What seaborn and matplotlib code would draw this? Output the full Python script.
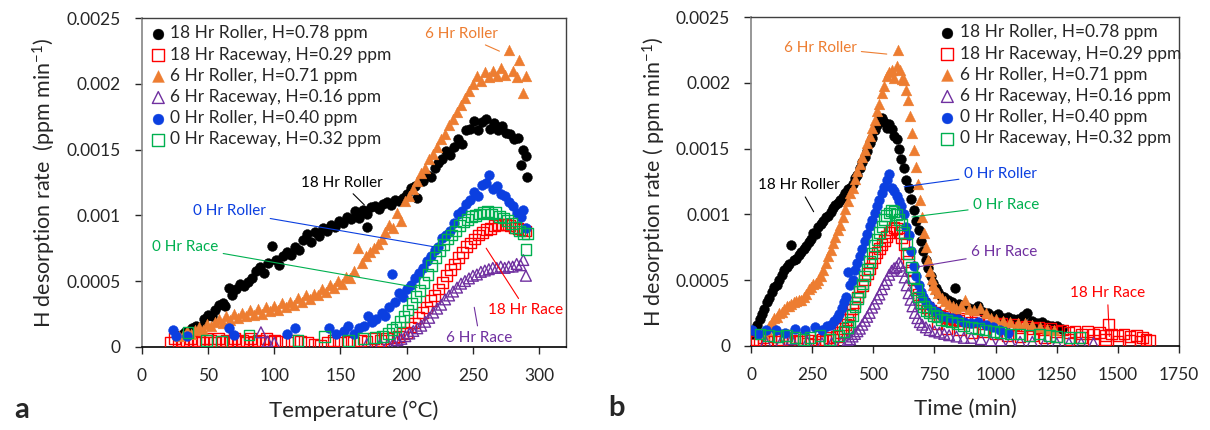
import numpy as np
import pandas as pd
import matplotlib
matplotlib.use("Agg")
import matplotlib.pyplot as plt
import seaborn as sns

# rates are in units of 1e-4 ppm/min

# ---- panel a: temperature (C) ----
r18_temp = [27, 30, 33, 36, 38, 41, 44, 47, 50, 53, 55, 58, 61, 63, 66, 68, 71, 74, 77, 80, 83, 86, 89, 92, 95, 98,
            101, 104, 107, 110, 113, 116, 119, 122, 125, 128, 131, 134, 137, 140, 143, 146, 149, 152, 155, 158, 161,
            164, 167, 170, 170, 173, 176, 179, 182, 185, 188, 191, 194, 197, 200, 203, 206, 208, 212, 215, 218, 221,
            224, 227, 230, 233, 236, 239, 242, 245, 248, 251, 254, 257, 260, 263, 266, 269, 272, 275, 278, 281, 284,
            286, 288, 290, 291]
r18_rate_a = [0.8, 0.9, 1.1, 1.0, 1.4, 1.6, 1.5, 2.1, 2.4, 2.3, 2.8, 3.2, 3.3, 3.1, 4.5, 3.9, 4.4, 4.8, 4.6, 4.9, 5.2,
              5.8, 6.1, 5.6, 6.4, 7.7, 6.6, 6.2, 6.9, 7.2, 7.0, 7.6, 7.4, 8.1, 8.6, 8.0, 8.7, 8.4, 9.0, 8.8, 9.3, 9.1,
              9.6, 9.4, 9.9, 9.7, 10.3, 9.8, 10.4, 10.1, 9.1, 10.6, 10.7, 10.5, 10.9, 11.0, 10.8, 11.2, 11.1, 11.3,
              11.6, 12.1, 12.2, 11.3, 12.6, 13.1, 12.9, 13.6, 14.0, 14.3, 14.9, 14.6, 15.2, 15.8, 15.4, 16.5, 16.6,
              17.2, 16.5, 17.1, 17.3, 16.6, 17.0, 16.5, 16.8, 16.3, 16.2, 15.8, 15.9, 13.8, 15.0, 14.5, 12.9]

rw18_temp = [22, 25, 28, 31, 34, 37, 40, 43, 46, 49, 52, 55, 58, 61, 64, 67, 70, 73, 76, 79, 82, 85, 88, 91, 94, 97,
             100, 105, 110, 115, 120, 125, 130, 135, 140, 145, 150, 155, 160, 165, 170, 175, 180, 185, 190, 194, 197,
             200, 203, 206, 209, 212, 215, 218, 221, 224, 227, 230, 233, 236, 239, 242, 245, 248, 251, 254, 257, 260,
             263, 266, 269, 272, 275, 278, 281, 284, 287, 290]
rw18_rate_a = [0.3, 0.6, 0.4, 0.5, 0.3, 0.6, 0.4, 0.5, 0.3, 0.6, 0.5, 0.3, 0.6, 0.4, 0.5, 0.3, 0.6, 0.4, 0.5, 0.3,
               0.6, 0.4, 0.5, 0.3, 0.6, 0.4, 0.5, 0.4, 0.3, 0.5, 0.4, 0.3, 0.2, 0.1, 0.3, 0.5, 0.3, 0.4, 0.3, 0.5,
               0.4, 0.6, 0.5, 0.6, 0.7, 0.8, 1.0, 1.1, 1.5, 1.8, 2.2, 2.6, 3.0, 3.5, 3.9, 4.4, 4.9, 5.4, 5.9, 6.3,
               6.8, 7.2, 7.6, 7.9, 8.2, 8.5, 8.7, 8.9, 9.0, 9.2, 9.3, 9.3, 9.3, 9.2, 9.1, 9.0, 8.9, 8.8]

r6_temp = [28, 31, 34, 37, 40, 43, 46, 49, 52, 55, 58, 61, 64, 67, 70, 73, 76, 79, 82, 85, 88, 91, 94, 97, 100, 103,
           106, 109, 112, 115, 118, 121, 124, 127, 130, 133, 136, 139, 142, 145, 148, 151, 154, 157, 160, 163, 166,
           169, 172, 175, 178, 181, 184, 187, 190, 193, 196, 199, 202, 205, 208, 211, 214, 217, 220, 223, 226, 229,
           232, 235, 238, 241, 244, 247, 250, 253, 256, 259, 262, 265, 268, 271, 274, 277, 280, 283, 285, 288, 290]
r6_rate_a = [0.8, 0.9, 1.2, 1.0, 1.3, 1.5, 1.3, 1.7, 1.6, 1.9, 2.1, 1.8, 2.3, 2.0, 2.5, 2.2, 2.6, 2.3, 2.8, 2.4, 2.9,
             2.5, 3.0, 2.7, 3.1, 2.8, 3.3, 3.0, 3.4, 3.2, 3.7, 3.4, 3.9, 3.6, 4.0, 3.9, 4.4, 4.2, 4.7, 4.5, 5.0, 4.8,
             5.3, 5.2, 5.8, 7.5, 6.4, 6.9, 7.2, 7.5, 7.8, 8.2, 8.7, 9.3, 9.0, 10.2, 9.6, 11.1, 11.5, 12.0, 12.6, 13.2,
             13.6, 14.3, 14.7, 15.2, 15.8, 16.2, 16.9, 17.3, 17.9, 18.4, 18.9, 19.5, 20.0, 20.6, 20.2, 20.9, 20.5,
             21.0, 20.6, 21.2, 20.7, 22.6, 21.0, 20.5, 21.8, 19.3, 20.6]

rw6_temp = [90, 95, 100, 170, 180, 186, 190, 193, 196, 199, 202, 205, 208, 211, 214, 217, 220, 223, 226, 229, 232, 235,
            238, 241, 244, 247, 250, 253, 256, 259, 262, 265, 268, 271, 274, 277, 280, 283, 286, 288, 290]
rw6_rate_a = [1.1, 0.4, 0.3, 0.2, 0.2, 0.2, 0.3, 0.5, 0.6, 0.8, 1.0, 1.2, 1.4, 1.6, 1.9, 2.2, 2.6, 2.9, 3.2, 3.6, 3.9,
              4.2, 4.5, 4.8, 5.0, 5.2, 5.4, 5.5, 5.7, 5.8, 5.9, 6.0, 6.0, 6.1, 6.0, 6.1, 6.1, 6.3, 6.2, 6.6, 5.4]

r0_temp = [24, 26, 34, 66, 70, 110, 116, 141, 147, 153, 156, 160, 164, 168, 171, 174, 177, 181, 184, 187, 189, 191,
           194, 197, 200, 203, 206, 209, 212, 215, 218, 221, 224, 227, 230, 233, 236, 239, 242, 245, 248, 251, 254,
           257, 260, 262, 265, 268, 271, 274, 277, 280, 283, 286, 288, 290]
r0_rate_a = [1.3, 0.8, 0.8, 1.4, 0.9, 1.0, 1.4, 1.4, 1.0, 1.2, 1.6, 1.0, 1.4, 1.6, 2.3, 1.9, 2.1, 2.6, 2.3, 3.0, 5.5,
             3.4, 4.1, 3.8, 4.4, 4.7, 5.2, 5.6, 6.0, 6.5, 6.9, 7.4, 7.6, 8.3, 8.5, 8.8, 9.4, 10.1, 10.3, 10.9, 11.2,
             11.8, 11.5, 12.3, 12.5, 13.1, 12.0, 12.2, 11.6, 11.5, 11.0, 10.7, 10.2, 9.9, 10.4, 9.0]

rw0_temp = [35, 49, 60, 81, 118, 138, 156, 167, 176, 182, 186, 189, 192, 195, 198, 201, 204, 207, 210, 213, 216, 219,
            222, 225, 228, 231, 234, 237, 240, 243, 246, 249, 252, 255, 258, 261, 264, 267, 270, 273, 276, 279, 282,
            285, 288, 290, 291]
rw0_rate_a = [1.1, 0.5, 0.4, 0.9, 0.5, 0.8, 0.5, 0.6, 0.7, 0.8, 1.0, 1.3, 1.5, 1.9, 2.3, 2.8, 3.3, 3.8, 4.3, 4.9, 5.5,
              6.2, 6.8, 7.3, 7.8, 8.2, 8.5, 8.8, 9.2, 9.5, 9.7, 9.9, 10.0, 10.1, 10.2, 10.3, 10.1, 10.2, 9.9, 9.8,
              9.6, 9.4, 9.1, 8.8, 8.6, 7.4, 8.6]

# ---- panel b: time (min) ----
r18_time = [5, 15, 25, 35, 45, 55, 65, 75, 85, 95, 105, 115, 125, 135, 145, 155, 163, 175, 185, 195, 205, 215, 225,
            235, 245, 255, 265, 275, 285, 295, 305, 315, 325, 335, 345, 355, 365, 375, 385, 395, 405, 415, 425, 435,
            445, 455, 465, 475, 485, 495, 505, 515, 525, 535, 545, 555, 565, 575, 585, 595, 605, 615, 625, 635, 645,
            655, 665, 675, 685, 695, 705, 715, 725, 735, 745, 755, 765, 775, 790, 805, 820, 834, 850, 870, 890, 910,
            930, 950, 970, 990, 1010, 1030, 1050, 1070, 1090, 1110, 1130, 1150, 1170, 1190, 1210, 1230, 1250, 1270]
r18_rate_b = [0.9, 1.2, 1.6, 2.0, 2.4, 2.8, 3.3, 3.6, 4.1, 4.5, 4.6, 5.0, 5.4, 5.8, 6.0, 6.2, 7.7, 6.5, 6.6, 6.9, 7.1,
              7.4, 7.6, 7.9, 8.1, 8.6, 8.5, 9.0, 9.3, 9.5, 9.8, 9.9, 10.2, 10.5, 10.7, 10.9, 11.1, 11.3, 11.6, 11.9,
              12.0, 12.3, 12.8, 13.0, 13.5, 14.0, 14.4, 14.8, 15.4, 15.8, 16.4, 16.8, 17.2, 17.3, 17.0, 16.6, 16.9,
              16.5, 16.0, 15.7, 15.0, 14.2, 13.5, 12.6, 12.0, 11.2, 10.3, 9.5, 8.8, 8.0, 7.2, 6.5, 5.9, 5.3, 4.8, 4.4,
              4.1, 3.8, 3.7, 3.5, 3.3, 4.4, 3.2, 3.1, 2.9, 2.8, 3.0, 2.6, 2.5, 2.3, 2.4, 2.1, 2.2, 2.0, 2.0, 2.3, 2.5,
              1.9, 1.7, 1.8, 1.6, 1.5, 1.5, 1.3]

rw18_time = [5, 20, 35, 50, 65, 80, 95, 110, 125, 140, 155, 170, 185, 200, 215, 230, 245, 260, 275, 290, 305, 320,
             335, 350, 365, 375, 385, 395, 405, 415, 425, 435, 445, 455, 465, 475, 485, 495, 505, 515, 525, 535, 545,
             555, 565, 575, 585, 595, 605, 615, 625, 635, 645, 655, 665, 675, 685, 695, 705, 720, 735, 750, 770, 790,
             810, 830, 850, 875, 900, 925, 950, 975, 1000, 1025, 1050, 1075, 1100, 1125, 1150, 1175, 1200, 1225, 1250,
             1275, 1300, 1325, 1350, 1375, 1400, 1425, 1450, 1461, 1475, 1500, 1525, 1550, 1575, 1600, 1615, 1630,
             760, 800, 850, 900, 950, 1000, 1050, 1100, 1150, 1200, 1250, 1300, 1350, 1400, 1450, 1500, 1550, 1590]
rw18_rate_b = [0.3, 0.5, 0.2, 0.6, 0.3, 0.4, 0.7, 0.3, 0.5, 0.8, 0.3, 0.4, 0.6, 0.3, 0.5, 0.2, 0.4, 0.1, 0.3, 0.5,
               0.4, 0.6, 0.5, 0.7, 1.0, 1.3, 1.6, 2.0, 2.4, 2.8, 3.3, 3.7, 4.1, 4.6, 5.0, 5.5, 5.9, 6.3, 6.7, 7.1,
               7.4, 7.7, 8.0, 8.3, 8.6, 8.8, 9.0, 8.9, 8.6, 8.2, 7.7, 7.0, 6.4, 5.7, 5.0, 4.4, 3.9, 3.5, 3.2, 2.9,
               2.7, 2.5, 2.3, 2.2, 2.1, 2.0, 1.9, 2.1, 1.8, 1.9, 1.7, 1.8, 1.6, 1.7, 1.5, 1.6, 1.4, 1.5, 1.3, 1.4,
               1.2, 1.3, 1.1, 1.2, 1.0, 1.1, 0.9, 1.1, 0.9, 1.0, 0.8, 1.6, 0.9, 0.8, 0.9, 0.7, 0.8, 0.6, 0.5, 0.4,
               1.7, 1.3, 1.2, 1.0, 1.1, 0.9, 0.8, 0.7, 0.8, 0.6, 0.7, 0.5, 0.6, 0.4, 0.5, 0.3, 0.4, 0.3]

r6_time = [55, 65, 75, 85, 95, 105, 115, 125, 135, 145, 155, 165, 175, 185, 195, 205, 215, 225, 235, 245, 255, 265,
           275, 285, 295, 305, 315, 325, 335, 345, 355, 365, 375, 385, 395, 405, 415, 425, 435, 445, 455, 465, 475,
           485, 495, 505, 515, 525, 535, 545, 555, 565, 575, 585, 595, 602, 610, 618, 626, 634, 642, 650, 658, 666,
           674, 682, 690, 698, 706, 714, 722, 730, 738, 746, 754, 765, 780, 795, 810, 825, 840, 860, 875, 890, 910,
           936, 960, 980, 1000, 1030, 1060, 1090, 1120, 1150, 1180, 1210, 1240]
r6_rate_b = [0.9, 1.2, 1.5, 1.8, 2.1, 2.2, 2.5, 2.6, 2.8, 3.0, 3.0, 3.2, 3.3, 3.4, 3.5, 3.5, 3.7, 3.9, 4.3, 4.5, 4.7,
             4.8, 5.0, 5.3, 5.8, 6.3, 6.8, 7.3, 7.8, 8.3, 8.8, 9.2, 9.8, 10.4, 11.0, 11.6, 12.0, 12.7, 13.3, 13.8,
             14.4, 14.9, 15.4, 16.0, 16.6, 17.2, 17.9, 18.4, 19.2, 19.8, 20.5, 20.8, 21.0, 20.4, 21.3, 22.5, 21.0,
             20.3, 20.2, 19.5, 18.7, 17.5, 16.2, 14.9, 13.6, 12.3, 11.1, 9.8, 8.6, 7.5, 6.5, 5.7, 5.1, 4.6, 4.3, 4.0,
             3.6, 3.4, 3.2, 3.0, 2.9, 3.0, 3.5, 2.8, 2.7, 2.9, 2.5, 2.1, 2.0, 1.9, 1.8, 1.7, 1.7, 1.6, 1.4, 1.3, 1.2]

rw6_time = [60, 120, 165, 230, 290, 330, 370, 395, 405, 415, 425, 435, 445, 455, 465, 475, 485, 495, 505, 515, 525,
            535, 545, 555, 565, 575, 585, 595, 605, 612, 620, 628, 636, 644, 652, 660, 670, 680, 690, 700, 715, 730,
            750, 770, 790, 810, 840, 870, 900, 940, 980, 1020, 1060, 1100, 1150, 1200, 1250, 1300, 1350, 1400]
rw6_rate_b = [0.3, 0.2, 0.5, 0.3, 0.2, 0.2, 0.3, 0.4, 0.5, 0.7, 0.9, 1.1, 1.3, 1.6, 1.9, 2.2, 2.5, 2.9, 3.2, 3.6,
              3.9, 4.3, 4.7, 5.0, 5.4, 5.7, 5.9, 6.0, 6.3, 6.1, 5.7, 5.2, 4.6, 4.0, 3.5, 3.0, 2.5, 2.1, 1.8, 1.6,
              1.4, 1.2, 1.1, 1.0, 0.9, 0.8, 0.7, 0.6, 0.6, 0.5, 0.4, 0.4, 0.3, 0.3, 0.3, 0.2, 0.2, 0.2, 0.2, 0.2]

r0_time = [5, 30, 60, 100, 140, 180, 220, 260, 290, 310, 325, 340, 350, 360, 370, 380, 390, 398, 405, 415, 425, 435,
           445, 455, 465, 475, 485, 495, 505, 515, 525, 535, 545, 555, 565, 575, 585, 595, 605, 615, 625, 635, 645,
           655, 665, 675, 685, 695, 705, 715, 730, 745, 760, 780, 800, 820, 845, 870, 900, 930, 960, 990, 1020, 1050]
r0_rate_b = [1.2, 0.9, 1.2, 1.2, 1.0, 1.3, 1.2, 1.4, 1.2, 1.5, 1.6, 1.9, 2.1, 2.4, 2.9, 3.3, 3.7, 5.6, 4.6, 5.0, 5.8,
             6.3, 6.8, 7.4, 8.0, 8.5, 9.1, 9.6, 10.1, 10.6, 11.1, 11.6, 12.1, 12.6, 13.1, 12.0, 11.8, 11.4, 11.0,
             10.6, 10.0, 9.0, 8.4, 7.2, 6.1, 5.3, 4.6, 4.1, 3.7, 3.3, 3.0, 2.7, 2.6, 2.3, 2.2, 2.1, 2.0, 1.8, 1.7,
             1.8, 1.6, 1.4, 1.2, 1.0]

rw0_time = [37, 70, 110, 146, 180, 215, 241, 282, 320, 357, 380, 395, 405, 415, 425, 435, 445, 455, 465, 475, 485,
            495, 505, 515, 525, 535, 545, 555, 565, 575, 585, 595, 605, 615, 625, 635, 645, 655, 665, 675, 685, 695,
            705, 715, 730, 745, 760, 780, 800, 820, 845, 870, 900, 930, 960, 990, 1020, 1060, 1100, 1140, 1180, 1220,
            1250, 1300, 1345]
rw0_rate_b = [0.9, 0.8, 0.7, 0.8, 0.6, 0.5, 0.6, 0.8, 0.5, 0.8, 1.1, 1.4, 1.8, 2.3, 3.0, 3.6, 4.1, 4.7, 5.3, 5.8,
              6.4, 7.0, 7.6, 8.1, 8.6, 9.1, 9.6, 9.9, 10.1, 10.3, 10.2, 10.0, 9.6, 9.2, 8.6, 7.8, 7.0, 6.0, 5.2, 4.3,
              3.7, 3.3, 3.0, 2.7, 2.5, 2.3, 2.2, 2.0, 1.9, 1.8, 1.7, 1.5, 1.4, 1.3, 1.2, 1.1, 1.0, 0.9, 0.9, 0.8,
              0.9, 0.8, 0.7, 0.6, 0.6]

labels = ["18 Hr Roller, H=0.78 ppm", "18 Hr Raceway, H=0.29 ppm", "6 Hr Roller, H=0.71 ppm",
          "6 Hr Raceway, H=0.16 ppm", "0 Hr Roller, H=0.40 ppm", "0 Hr Raceway, H=0.32 ppm"]
colors = ["#000000", "#FF0000", "#ED7D31", "#7030A0", "#0B3FE0", "#00B050"]
markers = ["o", "s", "^", "^", "o", "s"]
filled = [True, False, True, False, True, False]

series_a = [(r18_temp, r18_rate_a), (rw18_temp, rw18_rate_a), (r6_temp, r6_rate_a),
            (rw6_temp, rw6_rate_a), (r0_temp, r0_rate_a), (rw0_temp, rw0_rate_a)]
series_b = [(r18_time, r18_rate_b), (rw18_time, rw18_rate_b), (r6_time, r6_rate_b),
            (rw6_time, rw6_rate_b), (r0_time, r0_rate_b), (rw0_time, rw0_rate_b)]

sns.set_style("white")
plt.rcParams["font.family"] = ["Lato", "DejaVu Sans"]
plt.rcParams["mathtext.fontset"] = "custom"
plt.rcParams["mathtext.rm"] = "Lato"
plt.rcParams["mathtext.it"] = "Lato:italic"


def draw_series(ax, series):
    for (xs, ys), lab, col, mk, fill in zip(series, labels, colors, markers, filled):
        df = pd.DataFrame({"x": xs, "rate": np.array(ys) * 1e-4})
        size = 50 if mk == "o" else 60
        if fill:
            sns.scatterplot(data=df, x="x", y="rate", ax=ax, marker=mk, s=size, color=col,
                            edgecolor=col, linewidth=0.3, label=lab, zorder=3)
        else:
            sns.scatterplot(data=df, x="x", y="rate", ax=ax, marker=mk, s=size, color=col,
                            facecolors="none", edgecolor=col, linewidth=1.0, label=lab, zorder=3)


def style_axes(ax, xlim, xticks, xlabel, ylabel):
    ax.set_xlim(*xlim)
    ax.set_ylim(0, 0.0025)
    ax.set_xticks(xticks)
    ax.set_xticklabels([str(t) for t in xticks])
    yt = [0, 0.0005, 0.001, 0.0015, 0.002, 0.0025]
    ax.set_yticks(yt)
    ax.set_yticklabels(["0", "0.0005", "0.001", "0.0015", "0.002", "0.0025"])
    ax.tick_params(axis="both", direction="out", length=5, width=1, labelsize=12.5,
                   colors="#262626", pad=10, bottom=True, left=True)
    ax.spines["bottom"].set_color("black")
    ax.spines["bottom"].set_linewidth(1.2)
    ax.spines["left"].set_color("#858585")
    ax.spines["left"].set_linewidth(1.2)
    for s in ["top", "right"]:
        ax.spines[s].set_color("#404040")
        ax.spines[s].set_linewidth(1.0)
    ax.set_xlabel(xlabel, fontsize=16, labelpad=12)
    ax.set_ylabel(ylabel, fontsize=15.5, labelpad=6)


def note(ax, text, color, xytext, xy):
    ax.annotate(text, xy=xy, xytext=xytext, color=color, fontsize=11, ha="center", va="center",
                arrowprops=dict(arrowstyle="-", color=color, lw=0.8, shrinkA=1, shrinkB=0))


fig = plt.figure(figsize=(12.1, 4.3), dpi=100)
ax_a = fig.add_axes([0.1171, 0.1937, 0.3504, 0.7637])
ax_b = fig.add_axes([0.6207, 0.196, 0.3537, 0.7638])

draw_series(ax_a, series_a)
draw_series(ax_b, series_b)

style_axes(ax_a, (0, 320), list(range(0, 301, 50)), "Temperature (°C)",
           "H desorption rate  (ppm min$^{-1}$)")
style_axes(ax_b, (0, 1750), list(range(0, 1751, 250)), "Time (min)",
           "H desorption rate ( ppm min$^{-1}$)")

for ax, anchor in [(ax_a, (-0.01, 1.01)), (ax_b, (0.41, 1.01))]:
    ax.legend(loc="upper left", bbox_to_anchor=anchor, frameon=False, fontsize=12.5,
              handletextpad=0.1, labelspacing=0.3, borderaxespad=0.2, handlelength=1.2,
              markerscale=1.1)

note(ax_a, "6 Hr Roller", "#ED7D31", (241, 0.00238), (270, 0.00225))
note(ax_a, "18 Hr Roller", "#000000", (151, 0.00125), (168, 0.00108))
note(ax_a, "0 Hr Roller", "#0B3FE0", (66, 0.00103), (221, 0.00076))
note(ax_a, "0 Hr Race", "#00B050", (33, 0.00076), (208, 0.00045))
note(ax_a, "18 Hr Race", "#FF0000", (290, 0.00028), (260, 0.00075))
note(ax_a, "6 Hr Race", "#7030A0", (255, 0.00007), (251, 0.00030))

note(ax_b, "6 Hr Roller", "#ED7D31", (283, 0.00227), (555, 0.00222))
note(ax_b, "18 Hr Roller", "#000000", (195, 0.00122), (256, 0.00102))
note(ax_b, "0 Hr Roller", "#0B3FE0", (1018, 0.00131), (626, 0.00121))
note(ax_b, "0 Hr Race", "#00B050", (1042, 0.00107), (658, 0.00098))
note(ax_b, "6 Hr Race", "#7030A0", (1034, 0.00071), (682, 0.00060))
note(ax_b, "18 Hr Race", "#FF0000", (1457, 0.00040), (1465, 0.00007))

fig.text(0.012, 0.028, "a", fontsize=21, fontweight="bold", ha="left", va="baseline")
fig.text(0.503, 0.032, "b", fontsize=21, fontweight="bold", ha="left", va="baseline")

fig.savefig("out.png", dpi=100)
